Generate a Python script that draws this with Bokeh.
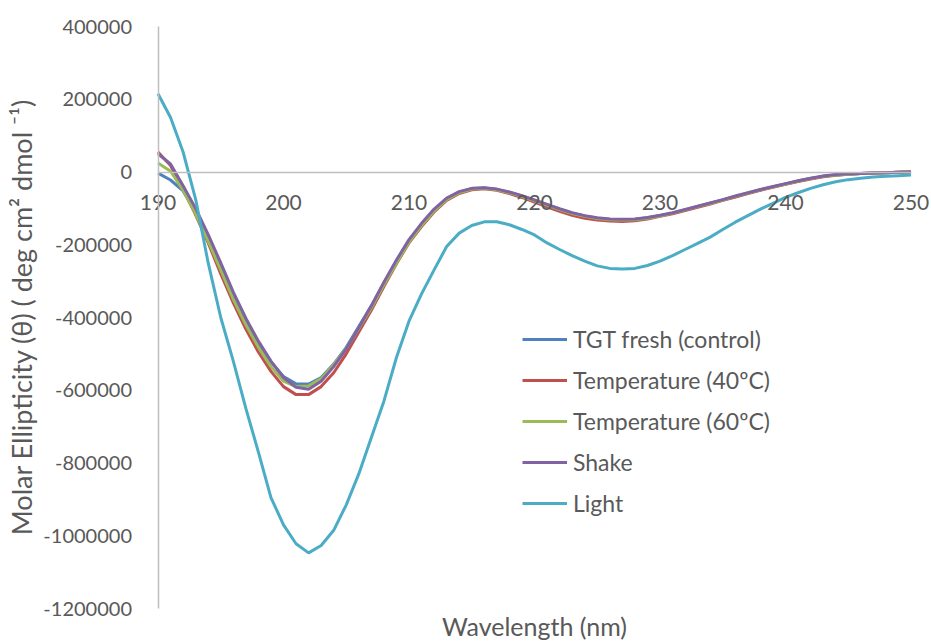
from bokeh.plotting import figure
from bokeh.models import (Range1d, FixedTicker, Legend, LegendItem, Label)
from bokeh.embed import file_html
from bokeh.resources import INLINE

wavelength = list(range(190, 251))

tgt_fresh = [-3000, -22000, -52000, -110000, -183000, -262000, -340000, -410000, -470000, -522000,
             -562000, -582000, -583000, -565000, -528000, -482000, -425000, -368000, -305000, -245000,
             -190000, -145000, -105000, -74000, -55000, -46000, -44000, -48000, -56000, -66000,
             -78000, -90000, -102000, -113000, -121000, -127000, -130000, -131000, -130000, -126000,
             -120000, -113000, -104000, -95000, -86000, -77000, -68000, -58000, -49000, -41000,
             -33000, -25000, -18000, -12000, -8000, -6000, -4000, -3000, -2000, -1000, 0]

temp_40 = [55000, 18000, -48000, -118000, -195000, -280000, -360000, -432000, -495000, -548000,
           -590000, -612000, -612000, -590000, -552000, -500000, -440000, -380000, -315000, -252000,
           -195000, -150000, -110000, -78000, -59000, -49000, -46000, -50000, -59000, -70000,
           -83000, -96000, -108000, -119000, -127000, -132000, -135000, -136000, -134000, -129000,
           -122000, -115000, -106000, -97000, -88000, -78000, -69000, -59000, -50000, -42000,
           -34000, -26000, -19000, -13000, -9000, -6000, -4000, -3000, -2000, -1000, 0]

temp_60 = [25000, 2000, -50000, -115000, -190000, -270000, -350000, -420000, -482000, -535000,
           -575000, -590000, -588000, -568000, -530000, -485000, -430000, -373000, -310000, -250000,
           -193000, -147000, -107000, -76000, -57000, -47000, -45000, -49000, -57000, -67000,
           -79000, -91000, -103000, -114000, -122000, -128000, -131000, -132000, -131000, -127000,
           -121000, -113000, -104000, -95000, -86000, -77000, -67000, -58000, -49000, -41000,
           -33000, -25000, -18000, -12000, -8000, -6000, -4000, -3000, -2000, -1000, 0]

shake = [50000, 22000, -38000, -100000, -172000, -250000, -330000, -402000, -465000, -520000,
         -565000, -592000, -597000, -575000, -535000, -486000, -428000, -368000, -303000, -242000,
         -186000, -141000, -102000, -72000, -54000, -45000, -43000, -47000, -55000, -65000,
         -77000, -89000, -101000, -112000, -120000, -126000, -129000, -130000, -129000, -125000,
         -119000, -112000, -103000, -94000, -85000, -76000, -66000, -57000, -48000, -40000,
         -32000, -24000, -17000, -11000, -7000, -5000, -4000, -3000, -2000, -1000, 0]

light = [215000, 150000, 55000, -75000, -250000, -400000, -520000, -650000, -770000, -895000,
         -970000, -1022000, -1047000, -1027000, -985000, -915000, -830000, -730000, -630000, -510000,
         -410000, -335000, -269000, -205000, -168000, -147000, -137000, -137000, -145000, -158000,
         -173000, -195000, -213000, -230000, -245000, -258000, -265000, -267000, -265000, -257000,
         -245000, -230000, -213000, -196000, -179000, -158000, -138000, -120000, -102000, -86000,
         -70000, -57000, -45000, -35000, -27000, -21000, -17000, -14000, -12000, -10000, -8000]

series_names = ["TGT fresh (control)", "Temperature (40ºC)", "Temperature (60ºC)", "Shake", "Light"]
series_values = [tgt_fresh, temp_40, temp_60, shake, light]
series_colors = ["#4F81BD", "#C0504D", "#9BBB59", "#8064A2", "#4BACC6"]

x_ticks = [190, 200, 210, 220, 230, 240, 250]
y_ticks = [400000, 200000, 0, -200000, -400000, -600000, -800000, -1000000, -1200000]
x_title = "Wavelength (nm)"
y_title = "Molar Ellipticity (θ) ( deg cm² dmol ⁻¹)"

FONT = "Lato"
TXT = "#595959"
AX = "#BFBFBF"

W, H = 931, 642
# plot area in canvas pixels (the whole canvas is the frame, axes sit at fixed locations)
PX_LEFT, PX_RIGHT, PX_TOP, PX_BOTTOM = 157.5, 910.5, 26.0, 608.0
X0, X1 = x_ticks[0], x_ticks[-1]
Y0, Y1 = y_ticks[-1], y_ticks[0]
ux = (X1 - X0) / (PX_RIGHT - PX_LEFT)
uy = (Y1 - Y0) / (PX_BOTTOM - PX_TOP)
x_range = Range1d(X0 - PX_LEFT * ux, X1 + (W - PX_RIGHT) * ux)
y_range = Range1d(Y0 - (H - PX_BOTTOM) * uy, Y1 + PX_TOP * uy)

p = figure(width=W, height=H, output_backend="svg", toolbar_location=None,
           x_range=x_range, y_range=y_range,
           min_border_left=0, min_border_right=0, min_border_top=0, min_border_bottom=0)
p.outline_line_color = None
p.xgrid.visible = False
p.ygrid.visible = False
p.background_fill_color = "white"
p.border_fill_color = "white"

xa = p.xaxis[0]
xa.fixed_location = 0
xa.bounds = (X0, X1)
xa.ticker = FixedTicker(ticks=x_ticks)
xa.major_tick_line_color = None
xa.minor_tick_line_color = None
xa.axis_line_color = AX
xa.axis_line_width = 1.5
xa.major_label_text_font = FONT
xa.major_label_text_font_size = "21px"
xa.major_label_text_color = TXT
xa.major_label_standoff = 17

ya = p.yaxis[0]
ya.fixed_location = X0
ya.bounds = (Y0, Y1)
ya.ticker = FixedTicker(ticks=y_ticks)
ya.major_label_overrides = {t: str(t) for t in y_ticks}
ya.major_tick_line_color = None
ya.minor_tick_line_color = None
ya.axis_line_color = AX
ya.axis_line_width = 1.5
ya.major_label_text_font = FONT
ya.major_label_text_font_size = "20px"
ya.major_label_text_color = TXT
ya.major_label_standoff = 20
ya.axis_label = y_title
ya.axis_label_text_font = FONT
ya.axis_label_text_font_size = "27px"
ya.axis_label_text_font_style = "normal"
ya.axis_label_text_color = TXT
ya.axis_label_standoff = 3

p.add_layout(Label(x=(X0 + X1) / 2, y=Y0, y_offset=-17, text=x_title,
                   text_align="center", text_baseline="middle", text_font=FONT,
                   text_font_size="25px", text_color=TXT))

items = []
for name, vals, col in zip(series_names, series_values, series_colors):
    r = p.line(wavelength, vals, line_color=col, line_width=3)
    items.append(LegendItem(label=name, renderers=[r]))

legend = Legend(items=items, location=(522, 125), padding=0, margin=0,
                glyph_width=45, glyph_height=20, label_height=20, spacing=13,
                label_standoff=6, label_text_font=FONT, label_text_font_size="23px",
                label_text_color=TXT, background_fill_alpha=0, border_line_alpha=0)
p.add_layout(legend)

open("out.html", "w").write(file_html(p, INLINE))
